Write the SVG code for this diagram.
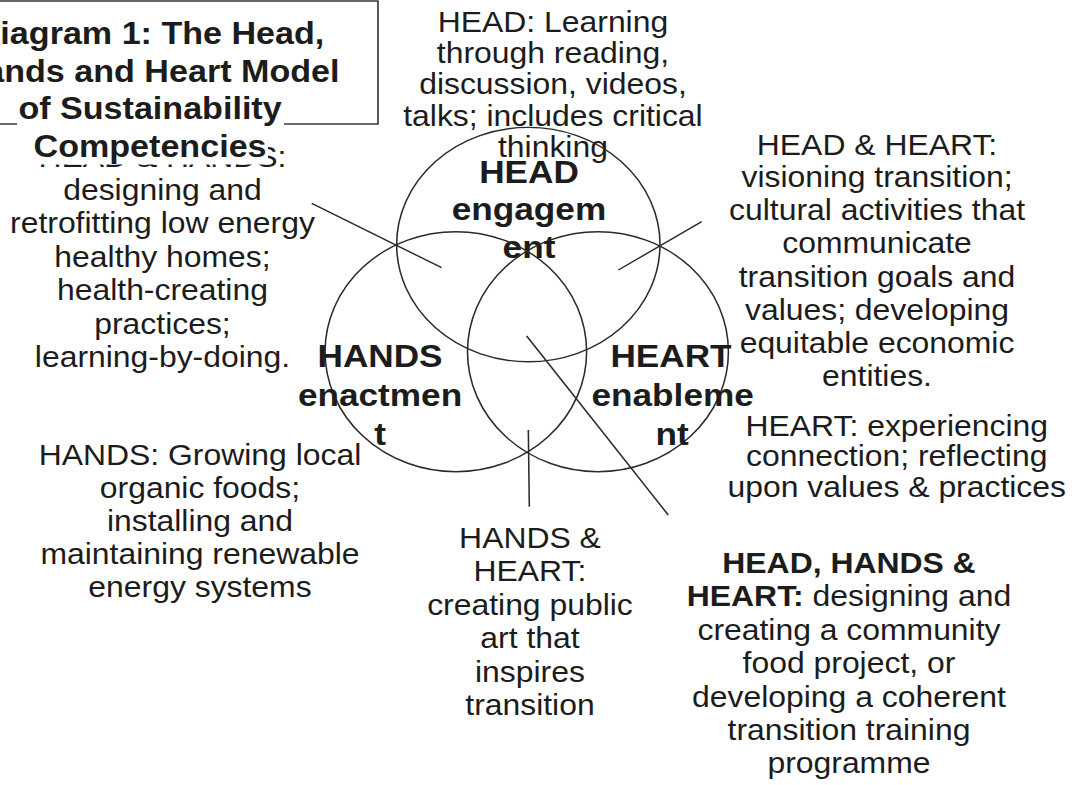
<svg xmlns="http://www.w3.org/2000/svg" width="1074" height="785" viewBox="0 0 1074 785">
  <style>
    text { font-family: "Liberation Sans", Arial, sans-serif; fill: #1c1c1c; text-anchor: middle; }
    .note { font-size: 29px; }
    .title { font-size: 31px; font-weight: bold; }
    .label { font-size: 32px; font-weight: bold; }
    .b { font-weight: bold; }
    .ring { fill: none; stroke: #2a2a2a; stroke-width: 1.4; }
    .conn line { stroke: #2a2a2a; stroke-width: 1.4; }
  </style>
  <rect width="1074" height="785" fill="#ffffff"/>
  <!-- whole drawing is set in a slightly widened coordinate frame -->
  <g transform="scale(1.1 1)">
    <!-- note partly hidden under the title -->
    <g id="note-head-hands">
      <text class="note" x="147.7" y="167">HEAD &amp; HANDS:</text>
      <text class="note" x="147.7" y="200">designing and</text>
      <text class="note" x="147.7" y="233.5">retrofitting low energy</text>
      <text class="note" x="147.7" y="267">healthy homes;</text>
      <text class="note" x="147.7" y="300.5">health-creating</text>
      <text class="note" x="147.7" y="334">practices;</text>
      <text class="note" x="147.7" y="367">learning-by-doing.</text>
    </g>

    <g id="title">
      <rect x="-1.8" y="1" width="345.4" height="123" fill="#ffffff" stroke="#2a2a2a" stroke-width="1.4"/>
      <rect x="15.5" y="91" width="242.7" height="37" fill="#ffffff"/>
      <rect x="30" y="128.5" width="213.6" height="36" fill="#ffffff"/>
      <text class="title" x="136.4" y="44.5">Diagram 1: The Head,</text>
      <text class="title" x="136.4" y="82">Hands and Heart Model</text>
      <text class="title" x="136.4" y="119.5">of Sustainability</text>
      <text class="title" x="136.4" y="157">Competencies</text>
    </g>

    <g id="note-head">
      <text class="note" x="502.7" y="31.7">HEAD: Learning</text>
      <text class="note" x="502.7" y="63.3">through reading,</text>
      <text class="note" x="502.7" y="94.5">discussion, videos,</text>
      <text class="note" x="502.7" y="126.5">talks; includes critical</text>
      <text class="note" x="502.7" y="157">thinking</text>
    </g>

    <g id="head">
      <ellipse class="ring" cx="480.3" cy="244.6" rx="119.7" ry="117.2"/>
      <text class="label" x="480.9" y="183">HEAD</text>
      <text class="label" x="480.9" y="220.5">engagem</text>
      <text class="label" x="480.9" y="258">ent</text>
    </g>

    <g id="hands">
      <ellipse class="ring" cx="414.4" cy="351.7" rx="118.9" ry="120"/>
      <text class="label" x="345.5" y="367">HANDS</text>
      <text class="label" x="345.5" y="406.5">enactmen</text>
      <text class="label" x="345.5" y="445">t</text>
    </g>

    <g id="heart">
      <ellipse class="ring" cx="543.6" cy="351.7" rx="118.6" ry="120"/>
      <text class="label" x="610" y="367">HEART</text>
      <text class="label" x="611.5" y="406">enableme</text>
      <text class="label" x="611" y="445">nt</text>
    </g>

    <g id="connectors" class="conn">
      <line x1="283.4" y1="203.3" x2="401.5" y2="267.7"/>
      <line x1="637.9" y1="221.7" x2="562.1" y2="270"/>
      <line x1="480.3" y1="430" x2="481.2" y2="506.7"/>
      <line x1="478.8" y1="336" x2="607.5" y2="515"/>
    </g>

    <g id="note-head-heart">
      <text class="note" x="797.3" y="155">HEAD &amp; HEART:</text>
      <text class="note" x="797.3" y="187.5">visioning transition;</text>
      <text class="note" x="797.3" y="220.5">cultural activities that</text>
      <text class="note" x="797.3" y="253.5">communicate</text>
      <text class="note" x="797.3" y="287">transition goals and</text>
      <text class="note" x="797.3" y="320">values; developing</text>
      <text class="note" x="797.3" y="353">equitable economic</text>
      <text class="note" x="797.3" y="386.5">entities.</text>
    </g>

    <g id="note-heart">
      <text class="note" x="815.2" y="436.5">HEART: experiencing</text>
      <text class="note" x="815.2" y="466.5">connection; reflecting</text>
      <text class="note" x="815.2" y="497">upon values &amp; practices</text>
    </g>

    <g id="note-hands">
      <text class="note" x="181.8" y="465">HANDS: Growing local</text>
      <text class="note" x="181.8" y="498">organic foods;</text>
      <text class="note" x="181.8" y="531">installing and</text>
      <text class="note" x="181.8" y="564.5">maintaining renewable</text>
      <text class="note" x="181.8" y="597">energy systems</text>
    </g>

    <g id="note-hands-heart">
      <text class="note" x="481.8" y="548.5">HANDS &amp;</text>
      <text class="note" x="481.8" y="581.5">HEART:</text>
      <text class="note" x="481.8" y="615">creating public</text>
      <text class="note" x="481.8" y="648.5">art that</text>
      <text class="note" x="481.8" y="682">inspires</text>
      <text class="note" x="481.8" y="715">transition</text>
    </g>

    <g id="note-all">
      <text class="note b" x="771.8" y="573.5">HEAD, HANDS &amp;</text>
      <text class="note" x="771.8" y="606.5"><tspan class="b">HEART:</tspan> designing and</text>
      <text class="note" x="771.8" y="640">creating a community</text>
      <text class="note" x="771.8" y="673.5">food project, or</text>
      <text class="note" x="771.8" y="707">developing a coherent</text>
      <text class="note" x="771.8" y="740">transition training</text>
      <text class="note" x="771.8" y="773.5">programme</text>
    </g>
  </g>
</svg>
